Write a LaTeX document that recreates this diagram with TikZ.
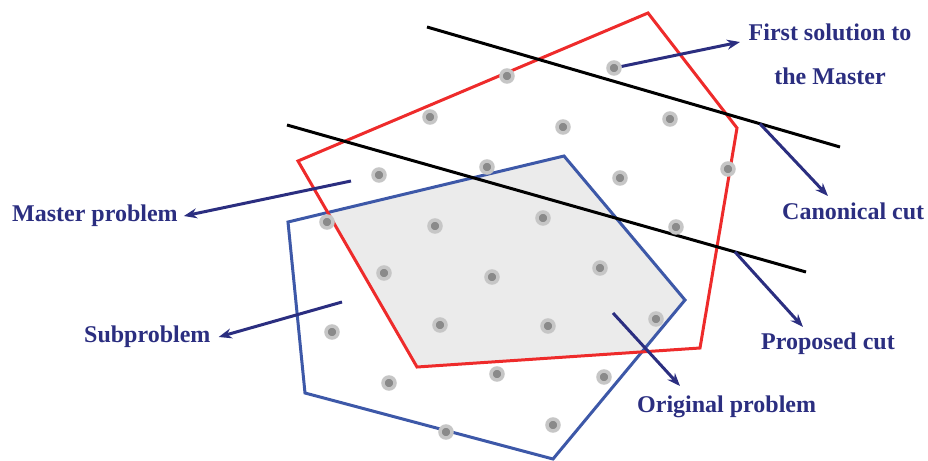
\documentclass[tikz,border=0pt]{standalone}
\usepackage{fontspec}
\setmainfont{Liberation Serif}
\usetikzlibrary{arrows.meta,positioning}
\definecolor{masterred}{HTML}{EE2B2B}
\definecolor{subblue}{HTML}{3D58A8}
\definecolor{labnavy}{HTML}{2B2E80}
\definecolor{feasgray}{HTML}{EBEBEB}
\definecolor{dotdark}{HTML}{8A8A8A}
\definecolor{dotlight}{HTML}{C6C6C6}
\tikzset{
    >={Stealth[length=13pt,width=10pt]}
}

\begin{document}
\begin{tikzpicture}[
    x=1pt, y=-1pt,
    lbl/.style={text=labnavy, font=\bfseries\fontsize{24}{28}\selectfont, inner sep=2pt},
    pt/.style={circle, fill=dotdark, draw=dotlight, line width=3.5pt, minimum size=12pt, inner sep=0pt},
    ptr/.style={->, draw=labnavy, line width=3pt},
    cut/.style={black, line width=3pt}
]
\useasboundingbox (0,0) rectangle (928,460);

% Feasible regions
\begin{scope}
\clip (648,13) -- (737,128) -- (700,348) -- (417,367) -- (298,161) -- cycle;
\fill[feasgray] (288,222) -- (564,156) -- (685,300) -- (553,459) -- (305,393) -- cycle;
\end{scope}
\draw[subblue, line width=3pt, line join=miter] (288,222) -- (564,156) -- (685,300) -- (553,459) -- (305,393) -- cycle;
\draw[masterred, line width=3pt, line join=miter] (648,13) -- (737,128) -- (700,348) -- (417,367) -- (298,161) -- cycle;

% Cuts
\coordinate (cc-a) at (427,27);
\coordinate (cc-b) at (840,147);
\coordinate (pc-a) at (287,125);
\coordinate (pc-b) at (806,272);
\draw[cut] (cc-a) -- (cc-b) coordinate[pos=0.806] (cc-tail);
\draw[cut] (pc-a) -- (pc-b) coordinate[pos=0.863] (pc-tail);

% Integer points
\foreach \x/\y [count=\i] in {507/76, 614/68, 430/117, 563/127, 670/119,
    379/175, 487/167, 620/178, 728/169, 327/222, 435/226, 543/218, 676/227,
    384/273, 492/277, 600/268, 332/332, 440/325, 548/326, 656/319,
    389/383, 497/374, 604/377, 446/432, 553/425}
    \node[pt] (d\i) at (\x,\y) {};

% Labels
\node[lbl, align=center, font=\bfseries\fontsize{24}{44}\selectfont] (fs) at (830,54) {First solution to\\the Master};
\node[lbl, anchor=west] (mp) at (10,216) {Master problem};
\node[lbl, anchor=west] (sp) at (82,337) {Subproblem};
\node[lbl, anchor=west] (cc) at (780,211) {Canonical cut};
\node[lbl, anchor=west] (pc) at (759,344) {Proposed cut};
\node[lbl, anchor=west] (op) at (635,407) {Original problem};

% Arrows
\coordinate (fs-tip) at (740,42);
\coordinate (mp-tail) at (351,181);
\coordinate (sp-tail) at (342,302);
\coordinate (cc-tip) at (828,196);
\coordinate (pc-tip) at (803,327);
\coordinate (op-tail) at (613,313);
\coordinate (op-tip) at (680,386);
\draw[ptr] (d2) -- (fs-tip);
\draw[ptr] (mp-tail) -- ([xshift=4pt]mp.east);
\draw[ptr] (sp-tail) -- ([xshift=6pt]sp.east);
\draw[ptr] (cc-tail) -- (cc-tip);
\draw[ptr] (pc-tail) -- (pc-tip);
\draw[ptr] (op-tail) -- (op-tip);

\end{tikzpicture}
\end{document}
